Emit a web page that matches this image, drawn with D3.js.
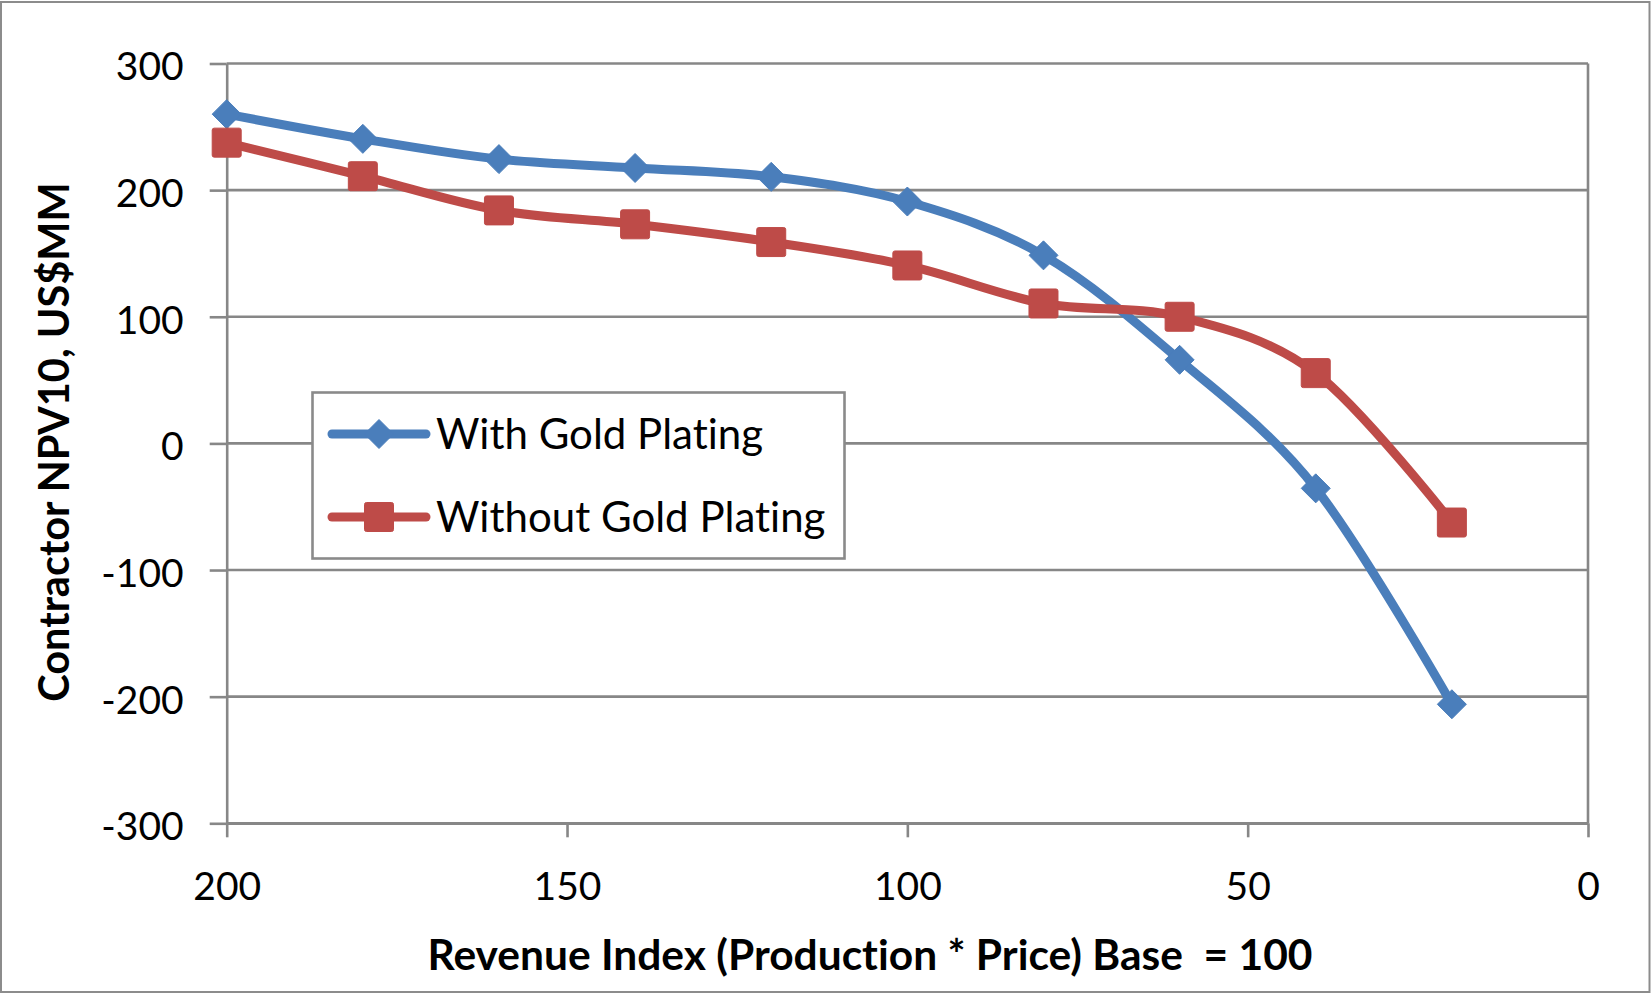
<!DOCTYPE html>
<html>
<head>
<meta charset="utf-8">
<script src="https://cdn.jsdelivr.net/npm/d3@7/dist/d3.min.js"></script>
<style>
  html, body { margin: 0; padding: 0; background: #ffffff; }
  svg { display: block; }
  text { font-family: Lato, "Open Sans", "DejaVu Sans", sans-serif; fill: #000;
         font-variant-ligatures: none; font-feature-settings: "liga" 0, "clig" 0; }
</style>
</head>
<body>
<svg id="chart" width="1651" height="993"></svg>
<script>
// Revenue index (production * price), base = 100
const revenueIndex = [200, 180, 160, 140, 120, 100, 80, 60, 40, 20];
// Contractor NPV10, US$MM
const withGoldPlating    = [260, 240.5, 224.5, 217.5, 210.5, 191, 148.5, 66, -35.5, -206];
const withoutGoldPlating = [237.5, 211, 184, 173, 159, 140.5, 110.5, 100, 55.5, -62.5];

const seriesNames = ["With Gold Plating", "Without Gold Plating"];
const xTicks = [200, 150, 100, 50, 0];
const yTicks = [300, 200, 100, 0, -100, -200, -300];
const xTitle = "Revenue Index (Production * Price) Base  = 100";
const yTitle = "Contractor NPV10, US$MM";

const W = 1651, H = 993;
const plot = { left: 226.7, right: 1588, top: 63.5, bottom: 823.3 };
const gridColor = "#878787";
const blue = "#4a7ebb";
const red = "#be4b48";
const plainNumber = d => String(d);   // keeps an ASCII hyphen for negatives

const svg = d3.select("#chart");

// outer chart frame
svg.append("rect")
  .attr("x", 1).attr("y", 2).attr("width", W - 2.5).attr("height", H - 3)
  .attr("fill", "#fff").attr("stroke", "#8c8c8c").attr("stroke-width", 2);

const x = d3.scaleLinear().domain([200, 0]).range([plot.left, plot.right]);
const y = d3.scaleLinear().domain([-300, 300]).range([plot.bottom, plot.top]);

// horizontal gridlines
svg.append("g").selectAll("line")
  .data(yTicks)
  .join("line")
  .attr("x1", plot.left).attr("x2", plot.right)
  .attr("y1", d => y(d)).attr("y2", d => y(d))
  .attr("stroke", gridColor).attr("stroke-width", 2.6);

// right edge of plot area
svg.append("line")
  .attr("x1", plot.right).attr("x2", plot.right)
  .attr("y1", plot.top).attr("y2", plot.bottom)
  .attr("stroke", gridColor).attr("stroke-width", 2.6);

// y axis
const yAxis = svg.append("g")
  .attr("transform", `translate(${plot.left},0)`)
  .call(d3.axisLeft(y).tickValues(yTicks).tickSize(17).tickSizeOuter(0).tickPadding(26)
        .tickFormat(plainNumber));
yAxis.select(".domain").attr("stroke", gridColor).attr("stroke-width", 2.6);
yAxis.selectAll(".tick line").attr("stroke", gridColor).attr("stroke-width", 2.6);
yAxis.selectAll(".tick text")
  .attr("font-size", 39).attr("font-family", "Lato, sans-serif")
  .attr("dy", "0.42em").attr("fill", "#000");

// x axis
const xAxis = svg.append("g")
  .attr("transform", `translate(0,${plot.bottom})`)
  .call(d3.axisBottom(x).tickValues(xTicks).tickSize(14).tickSizeOuter(0).tickPadding(35)
        .tickFormat(plainNumber));
xAxis.select(".domain").attr("stroke", gridColor).attr("stroke-width", 2.6);
xAxis.selectAll(".tick line").attr("stroke", gridColor).attr("stroke-width", 2.6);
xAxis.selectAll(".tick text")
  .attr("font-size", 39).attr("font-family", "Lato, sans-serif")
  .attr("dy", "0.71em").attr("fill", "#000");

// axis titles
svg.append("text")
  .attr("x", 870).attr("y", 970)
  .attr("text-anchor", "middle")
  .attr("font-size", 42.5).attr("font-weight", 700)
  .attr("xml:space", "preserve")
  .text(xTitle);

svg.append("text")
  .attr("transform", `translate(69,442) rotate(-90)`)
  .attr("text-anchor", "middle")
  .attr("font-size", 41.5).attr("font-weight", 700)
  .text(yTitle);

// series
const series = [
  { name: seriesNames[0], values: withGoldPlating, color: blue, marker: "diamond" },
  { name: seriesNames[1], values: withoutGoldPlating, color: red, marker: "square" }
];

const line = d3.line()
  .x(d => x(d[0]))
  .y(d => y(d[1]))
  .curve(d3.curveCardinal.tension(0));

function drawMarker(g, kind, cx, cy, color) {
  if (kind === "diamond") {
    const r = 14.5;
    g.append("path")
      .attr("d", `M${cx},${cy - r}L${cx + r},${cy}L${cx},${cy + r}L${cx - r},${cy}Z`)
      .attr("fill", color).attr("stroke", color).attr("stroke-width", 1)
      .attr("stroke-linejoin", "round");
  } else {
    const s = 29;
    g.append("rect")
      .attr("x", cx - s / 2).attr("y", cy - s / 2)
      .attr("width", s).attr("height", s).attr("rx", 2)
      .attr("fill", color).attr("stroke", color).attr("stroke-width", 1);
  }
}

series.forEach(s => {
  const pts = revenueIndex.map((r, i) => [r, s.values[i]]);
  svg.append("path")
    .datum(pts)
    .attr("d", line)
    .attr("fill", "none")
    .attr("stroke", s.color)
    .attr("stroke-width", 9)
    .attr("stroke-linecap", "round")
    .attr("stroke-linejoin", "round");
  const mg = svg.append("g");
  pts.forEach(p => drawMarker(mg, s.marker, x(p[0]), y(p[1]), s.color));
});

// legend
const legend = svg.append("g");
legend.append("rect")
  .attr("x", 312.5).attr("y", 392.5).attr("width", 532).attr("height", 166)
  .attr("fill", "#fff").attr("stroke", "#8a8a8a").attr("stroke-width", 2.6);

series.forEach((s, i) => {
  const cy = 434 + i * 83;
  legend.append("line")
    .attr("x1", 332).attr("x2", 426)
    .attr("y1", cy).attr("y2", cy)
    .attr("stroke", s.color).attr("stroke-width", 9)
    .attr("stroke-linecap", "round");
  drawMarker(legend, s.marker, 379, cy, s.color);
  legend.append("text")
    .attr("x", 436).attr("y", cy + 15)
    .attr("font-size", 42)
    .text(s.name);
});
</script>
</body>
</html>
